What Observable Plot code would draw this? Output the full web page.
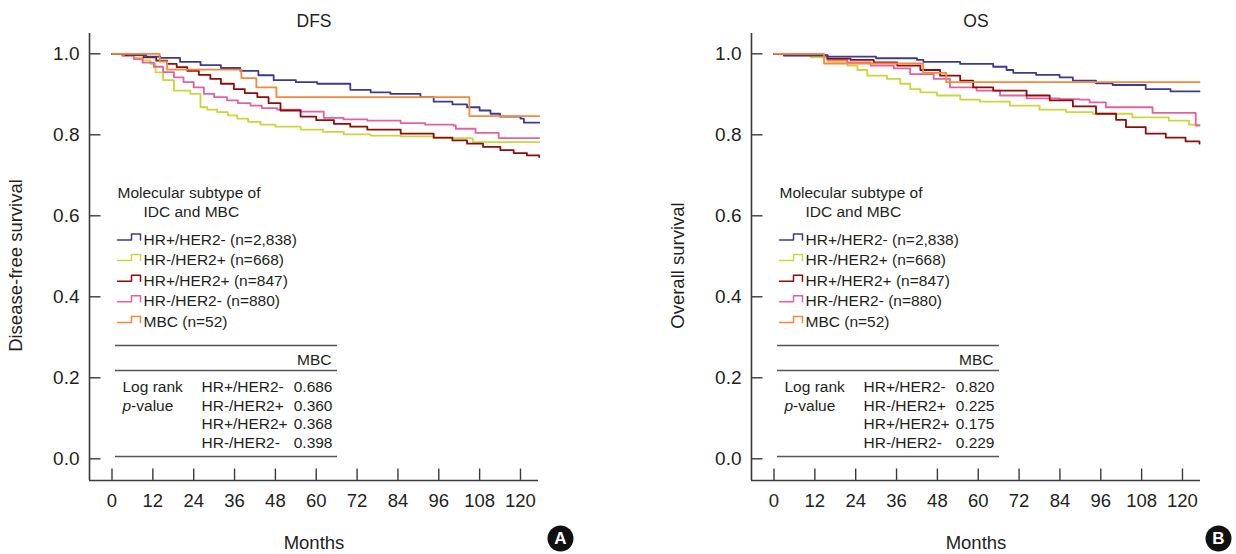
<!DOCTYPE html>
<html><head><meta charset="utf-8">
<script src="https://cdn.jsdelivr.net/npm/d3@7"></script>
<script src="https://cdn.jsdelivr.net/npm/@observablehq/plot@0.6"></script>
<style>
body{margin:0;background:#fff;}
#wrap{display:flex;gap:88px;width:1236px;height:554px;}
</style>
</head><body><div id="wrap"></div>
<script>
// ---------- data ----------
const groups = ["HR+/HER2-", "HR-/HER2+", "HR+/HER2+", "HR-/HER2-", "MBC"];
const groupN = ["2,838", "668", "847", "880", "52"];
const groupColors = ["#3b3b8f", "#c9d738", "#8e0c0c", "#e6609f", "#f7873a"];
const xTicks = [0, 12, 24, 36, 48, 60, 72, 84, 96, 108, 120];
const yTicks = [0, 0.2, 0.4, 0.6, 0.8, 1.0];

// DFS curves [month, survival]
const dfsHRposHER2neg = [[0,1],[5,0.997],[10,0.993],[14.2,0.99],[20,0.98],[26,0.972],[32,0.965],[37.7,0.958],[43,0.947],[47.5,0.935],[54,0.93],[60.3,0.926],[70,0.911],[76,0.905],[81.8,0.901],[90.6,0.893],[94.5,0.882],[100,0.875],[104.3,0.868],[108,0.86],[111.2,0.852],[114,0.845],[120,0.84],[121,0.83],[125.5,0.83]];
const dfsHRnegHER2pos = [[0,1],[3,0.997],[6.4,0.991],[9,0.984],[11.3,0.975],[12.8,0.954],[15,0.935],[18.2,0.909],[23,0.901],[26,0.868],[28,0.862],[30.9,0.856],[34,0.848],[36.8,0.84],[40,0.832],[43.6,0.825],[48,0.82],[55.4,0.813],[62,0.807],[68.1,0.801],[76,0.798],[84.8,0.796],[94.5,0.792],[105.8,0.79],[106,0.782],[125.5,0.782]];
const dfsHRposHER2pos = [[0,1],[4,0.997],[9.3,0.991],[13,0.983],[16.2,0.975],[19,0.967],[22.1,0.958],[25.5,0.948],[28.9,0.938],[32,0.926],[35.8,0.913],[39,0.903],[42.7,0.893],[46,0.878],[49.5,0.86],[55.4,0.845],[60,0.836],[65.2,0.827],[70,0.82],[75,0.813],[84.8,0.803],[94.5,0.793],[100,0.786],[104.3,0.778],[109,0.77],[114.1,0.762],[118,0.755],[121.9,0.749],[125.5,0.745]];
const dfsHRnegHER2neg = [[0,1],[3,0.995],[6.4,0.987],[9,0.978],[12.3,0.968],[15,0.955],[18.2,0.942],[21,0.93],[24,0.917],[27,0.901],[30,0.893],[33.8,0.885],[37,0.878],[40.7,0.872],[44,0.866],[48.5,0.862],[55.4,0.857],[62.2,0.842],[68,0.838],[75,0.835],[84.8,0.829],[92,0.825],[100.4,0.823],[101,0.815],[106.8,0.805],[113.6,0.792],[125.5,0.792]];
const dfsMBC = [[0,1],[14,0.981],[16.2,0.961],[38,0.94],[42.4,0.917],[48.3,0.893],[105,0.846],[125.5,0.846]];

// OS curves [month, survival]
const osHRposHER2neg = [[0,1],[3,0.996],[15.7,0.993],[30,0.989],[42,0.985],[43.9,0.98],[54.7,0.975],[64.4,0.968],[68.3,0.96],[70.3,0.953],[77,0.948],[83.9,0.942],[87.8,0.934],[94.6,0.927],[99.5,0.923],[109.2,0.913],[116.5,0.907],[125,0.907]];
const osHRnegHER2pos = [[0,1],[3,0.996],[10.8,0.991],[15.7,0.981],[21.5,0.971],[24.5,0.96],[27.4,0.946],[33.2,0.938],[37.1,0.926],[40,0.913],[43,0.905],[47.9,0.897],[54.7,0.887],[60.5,0.882],[69.3,0.872],[78,0.862],[85.8,0.856],[93.6,0.852],[105.3,0.843],[116,0.835],[121.9,0.825],[125,0.825]];
const osHRposHER2pos = [[0,1],[3,0.996],[15.7,0.988],[22.5,0.985],[29.3,0.979],[36.2,0.971],[43,0.96],[48.8,0.946],[54.7,0.934],[58.5,0.917],[64.4,0.909],[74.2,0.897],[81,0.885],[87.8,0.87],[94.6,0.852],[100.5,0.837],[103.4,0.819],[109.2,0.803],[115.1,0.793],[120.9,0.784],[125,0.778]];
const osHRnegHER2neg = [[0,1],[3,0.996],[15.7,0.985],[21.5,0.979],[28.4,0.971],[35.2,0.964],[40,0.95],[46.9,0.938],[51.7,0.917],[59.5,0.909],[66.4,0.897],[74.2,0.89],[83.9,0.888],[89.7,0.887],[92.7,0.88],[97.5,0.868],[111.2,0.854],[123.9,0.823],[125,0.823]];
const osMBC = [[0,1],[14.7,0.976],[43.8,0.953],[50.6,0.93],[125,0.93]];

// Log-rank p-values vs MBC
const pDFS = ["0.686", "0.360", "0.368", "0.398"];
const pOS = ["0.820", "0.225", "0.175", "0.229"];
const pRows = ["HR+/HER2-", "HR-/HER2+", "HR+/HER2+", "HR-/HER2-"];

// ---------- layout ----------
const W = 574, H = 554, ML = 89, MR = 36, MT = 33, MB = 74;
const X0PX = 111.5, PX_PER_MONTH = 3.404, Y0PX = 458.3, PX_PER_UNIT = 405;
const mx = p => (p - X0PX) / PX_PER_MONTH;   // pixel -> month
const vy = p => (Y0PX - p) / PX_PER_UNIT;    // pixel -> survival
const xDom = [mx(ML), mx(W - MR)];
const yDom = [vy(H - MB), vy(MT)];
const FONT = "'Liberation Sans', Arial, Helvetica, sans-serif";
const INK = "#231f20";

function panel(title, yLabel, curves, pvals, badge) {
  const order = [1, 3, 2, 0, 4];
  const marks = [];
  // axes lines
  marks.push(Plot.ruleX([xDom[0]], {y1: yDom[0], y2: yDom[1], stroke: "#3a3a3a", strokeWidth: 1.6}));
  marks.push(Plot.ruleY([yDom[0]], {x1: xDom[0], x2: xDom[1], stroke: "#3a3a3a", strokeWidth: 1.6}));
  marks.push(Plot.ruleY(yTicks, {x1: xDom[0], x2: mx(100.5), stroke: "#3a3a3a", strokeWidth: 1.4}));
  marks.push(Plot.ruleX(xTicks, {y1: yDom[0], y2: vy(468.5), stroke: "#3a3a3a", strokeWidth: 1.4}));
  marks.push(Plot.axisY({ticks: yTicks, tickSize: 0, tickPadding: 10, tickFormat: d3.format(".1f"), label: null, fontSize: 19, fill: INK}));
  marks.push(Plot.axisX({ticks: xTicks, tickSize: 0, tickPadding: 13, label: null, fontSize: 18.5, fill: INK}));
  // curves
  for (const i of order) {
    marks.push(Plot.line(curves[i], {x: d => d[0], y: d => d[1], curve: "step-after", stroke: groupColors[i], strokeWidth: 1.8}));
  }
  // titles
  const cx = (ML + W - MR) / 2;
  marks.push(Plot.text([title], {x: mx(cx), y: vy(21), fontSize: 17.5, fill: INK, lineAnchor: "middle"}));
  marks.push(Plot.text(["Months"], {x: mx(cx), y: vy(543), fontSize: 18.5, fill: INK, lineAnchor: "middle"}));
  marks.push(Plot.text([yLabel], {x: mx(16), y: vy(265), rotate: -90, fontSize: 18.5, fill: INK, lineAnchor: "middle"}));
  // legend
  marks.push(Plot.text(["Molecular subtype of"], {x: mx(117), y: vy(197.5), textAnchor: "start", lineAnchor: "bottom", fontSize: 15.5, fill: INK}));
  marks.push(Plot.text(["IDC and MBC"], {x: mx(143), y: vy(216.5), textAnchor: "start", lineAnchor: "bottom", fontSize: 15.5, fill: INK}));
  groups.forEach((g, i) => {
    const b = 244 + i * 20.6;
    const icon = [[117, b - 4.5], [131, b - 4.5], [131, b - 10.5], [140, b - 10.5], [140, b - 4.5]].map(([a, c]) => [mx(a), vy(c)]);
    marks.push(Plot.line(icon, {x: d => d[0], y: d => d[1], stroke: groupColors[i], strokeWidth: 1.5}));
    marks.push(Plot.text([`${g} (n=${groupN[i]})`], {x: mx(143), y: vy(b), textAnchor: "start", lineAnchor: "bottom", fontSize: 15.5, fill: INK}));
  });
  // table
  marks.push(Plot.ruleY([vy(345), vy(370), vy(456)], {x1: mx(115), x2: mx(337), stroke: "#555", strokeWidth: 1.3}));
  marks.push(Plot.text(["MBC"], {x: mx(331), y: vy(364.5), textAnchor: "end", lineAnchor: "bottom", fontSize: 15.5, fill: INK}));
  marks.push(Plot.text(["Log rank"], {x: mx(122), y: vy(391.5), textAnchor: "start", lineAnchor: "bottom", fontSize: 15.5, fill: INK}));
  marks.push(Plot.text(["p"], {x: mx(122), y: vy(410), textAnchor: "start", lineAnchor: "bottom", fontSize: 15.5, fontStyle: "italic", fill: INK}));
  marks.push(Plot.text(["-value"], {x: mx(130.6), y: vy(410), textAnchor: "start", lineAnchor: "bottom", fontSize: 15.5, fill: INK}));
  pRows.forEach((r, i) => {
    const b = 391.5 + i * 18.5;
    marks.push(Plot.text([r], {x: mx(201), y: vy(b), textAnchor: "start", lineAnchor: "bottom", fontSize: 15.5, fill: INK}));
    marks.push(Plot.text([pvals[i]], {x: mx(332), y: vy(b), textAnchor: "end", lineAnchor: "bottom", fontSize: 15.5, fill: INK}));
  });
  // badge
  marks.push(Plot.dot([0], {x: mx(badge.x), y: vy(538), r: 13, fill: "#111", stroke: "none"}));
  marks.push(Plot.text([badge.label], {x: mx(badge.x), y: vy(538), fill: "#fff", fontWeight: "bold", fontSize: 17, lineAnchor: "middle"}));

  return Plot.plot({
    width: W, height: H,
    marginLeft: ML, marginRight: MR, marginTop: MT, marginBottom: MB,
    x: {domain: xDom},
    y: {domain: yDom},
    style: {fontFamily: FONT, fontSize: "18px", background: "#fff", color: INK, overflow: "visible"},
    marks
  });
}

const wrap = document.getElementById("wrap");
wrap.appendChild(panel("DFS", "Disease-free survival",
  [dfsHRposHER2neg, dfsHRnegHER2pos, dfsHRposHER2pos, dfsHRnegHER2neg, dfsMBC], pDFS, {x: 560, label: "A"}));
wrap.appendChild(panel("OS", "Overall survival",
  [osHRposHER2neg, osHRnegHER2pos, osHRposHER2pos, osHRnegHER2neg, osMBC], pOS, {x: 556, label: "B"}));
</script></body></html>
